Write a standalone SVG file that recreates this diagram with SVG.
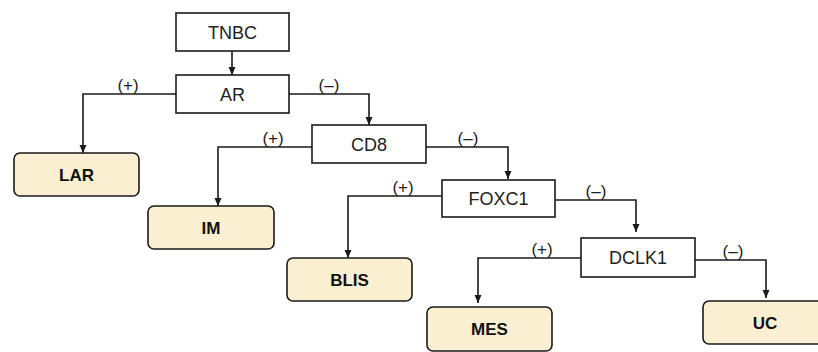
<svg xmlns="http://www.w3.org/2000/svg" width="818" height="352" viewBox="0 0 818 352">
<style>
.box{fill:#fff;stroke:#1a1a1a;stroke-width:1.6}
.leaf{fill:#fbefd2;stroke:#1a1a1a;stroke-width:1.6}
.t{font-family:"Liberation Sans",Arial,sans-serif;font-size:18px;fill:#222;text-anchor:middle}
.b{font-family:"Liberation Sans",Arial,sans-serif;font-size:17px;font-weight:bold;fill:#111;text-anchor:middle}
.l{font-family:"Liberation Sans",Arial,sans-serif;font-size:17px;fill:#222;text-anchor:middle}
.c{fill:none;stroke:#1a1a1a;stroke-width:1.6;marker-end:url(#ah)}
</style>
<defs>
<marker id="ah" viewBox="0 0 8 8" refX="8" refY="4" markerWidth="8" markerHeight="8" markerUnits="userSpaceOnUse" orient="auto">
<path d="M0,0.5 L8,4 L0,7.5 z" fill="#1a1a1a"/>
</marker>
</defs>
<rect width="818" height="352" fill="#fff"/>
<g id="connectors">
<path class="c" d="M232,51 V75"/>
<path class="c" d="M176,94 H83 V153"/>
<path class="c" d="M289,94 H369 V125"/>
<path class="c" d="M312,147 H218 V206"/>
<path class="c" d="M426,147 H508 V179"/>
<path class="c" d="M442,196 H348 V258"/>
<path class="c" d="M555,200 H636 V232"/>
<path class="c" d="M581,258 H478 V303"/>
<path class="c" d="M695,260 H766 V298"/>
<text class="l" x="128" y="91">(+)</text>
<text class="l" x="329" y="91">(–)</text>
<text class="l" x="273" y="144">(+)</text>
<text class="l" x="468" y="144">(–)</text>
<text class="l" x="403" y="193">(+)</text>
<text class="l" x="596" y="197">(–)</text>
<text class="l" x="542" y="255">(+)</text>
<text class="l" x="733" y="257">(–)</text>
</g>
<g id="TNBC"><rect class="box" x="176" y="13" width="113" height="38"/><text class="t" x="232.5" y="38.5">TNBC</text></g>
<g id="AR"><rect class="box" x="176" y="75" width="113" height="38"/><text class="t" x="232.5" y="100.5">AR</text></g>
<g id="CD8"><rect class="box" x="312" y="125" width="114" height="38"/><text class="t" x="369" y="150.5">CD8</text></g>
<g id="FOXC1"><rect class="box" x="442" y="180" width="113" height="37"/><text class="t" x="498.5" y="205">FOXC1</text></g>
<g id="DCLK1"><rect class="box" x="581" y="238" width="114" height="39"/><text class="t" x="638" y="264">DCLK1</text></g>
<g id="LAR"><rect class="leaf" x="14" y="153" width="125" height="43" rx="6"/><text class="b" x="76.5" y="181">LAR</text></g>
<g id="IM"><rect class="leaf" x="148" y="206" width="126" height="43" rx="6"/><text class="b" x="211" y="234">IM</text></g>
<g id="BLIS"><rect class="leaf" x="287" y="258" width="125" height="43" rx="6"/><text class="b" x="349.5" y="286">BLIS</text></g>
<g id="MES"><rect class="leaf" x="427" y="307" width="125" height="44" rx="6"/><text class="b" x="489.5" y="335">MES</text></g>
<g id="UC"><rect class="leaf" x="703" y="301" width="125" height="43" rx="6"/><text class="b" x="765" y="329">UC</text></g>
</svg>
